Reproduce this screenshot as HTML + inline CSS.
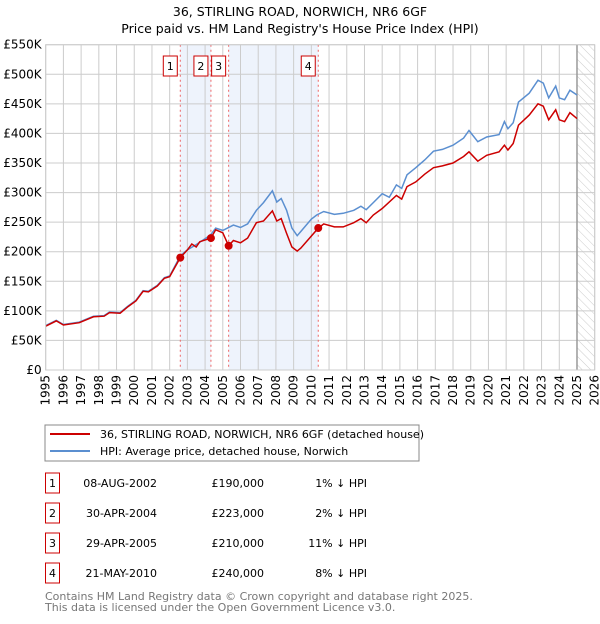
<!DOCTYPE html>
<html><head><meta charset="utf-8"><style>
body{margin:0;background:#fff;font-family:"DejaVu Sans","Liberation Sans",sans-serif;}
svg text{font-family:"DejaVu Sans","Liberation Sans",sans-serif;}
</style></head><body>
<svg id="c" width="600" height="620" xmlns="http://www.w3.org/2000/svg">
<defs><pattern id="hatch" width="6" height="6" patternUnits="userSpaceOnUse" patternTransform="rotate(-45)"><line x1="0" y1="0" x2="0" y2="6" stroke="#ccc" stroke-width="1"/></pattern></defs>
<text x="300" y="16" text-anchor="middle" font-size="12.5">36, STIRLING ROAD, NORWICH, NR6 6GF</text>
<text x="300" y="33" text-anchor="middle" font-size="12.5">Price paid vs. HM Land Registry's House Price Index (HPI)</text>
<g id="plot"></g>
<rect x="45" y="425" width="374" height="36" fill="#fff" stroke="#888"/>
<line x1="50" y1="434" x2="90" y2="434" stroke="#cc0000" stroke-width="2"/>
<text x="100" y="438" font-size="11">36, STIRLING ROAD, NORWICH, NR6 6GF (detached house)</text>
<line x1="50" y1="451" x2="90" y2="451" stroke="#5b8fd0" stroke-width="2"/>
<text x="100" y="455" font-size="11">HPI: Average price, detached house, Norwich</text>
<g id="table" font-size="11"></g>
<text x="45" y="600" font-size="11" fill="#777">Contains HM Land Registry data © Crown copyright and database right 2025.</text>
<text x="45" y="611" font-size="11" fill="#777">This data is licensed under the Open Government Licence v3.0.</text>
</svg>
<script>
const redYears=[1995.0,1995.6,1996.0,1996.9,1997.7,1998.3,1998.6,1999.2,1999.6,2000.1,2000.5,2000.8,2001.3,2001.7,2002.0,2002.6,2003.0,2003.25,2003.5,2003.7,2004.33,2004.6,2005.0,2005.33,2005.6,2006.0,2006.4,2006.9,2007.3,2007.8,2008.05,2008.3,2008.6,2008.9,2009.2,2009.4,2010.39,2010.7,2011.3,2011.8,2012.4,2012.8,2013.1,2013.5,2014.0,2014.8,2015.1,2015.4,2015.9,2016.4,2016.9,2017.4,2018.0,2018.6,2018.9,2019.4,2019.9,2020.6,2020.9,2021.1,2021.4,2021.7,2022.3,2022.8,2023.1,2023.4,2023.8,2024.0,2024.3,2024.6,2025.0];
const redVals=[74,83,76,80,90,91,97,96,106,117,133,132,142,155,158,190,203,213,208,217,223,237,232,210,219,215,223,249,252,269,252,256,231,208,201,206,240,247,242,242,249,256,249,262,273,295,289,310,318,331,342,345,350,361,369,353,363,369,380,372,383,414,431,450,446,423,440,423,420,435,425];
const hpiYears=[1995.0,1995.6,1996.0,1996.9,1997.7,1998.3,1998.6,1999.2,1999.6,2000.1,2000.5,2000.8,2001.3,2001.7,2002.0,2002.6,2003.0,2003.5,2004.3,2004.6,2005.0,2005.6,2006.0,2006.4,2006.9,2007.3,2007.8,2008.05,2008.3,2008.6,2008.9,2009.2,2009.4,2010.0,2010.3,2010.7,2011.3,2011.8,2012.4,2012.8,2013.1,2013.5,2014.0,2014.4,2014.8,2015.1,2015.4,2015.9,2016.4,2016.9,2017.4,2018.0,2018.6,2018.9,2019.4,2019.9,2020.6,2020.9,2021.1,2021.4,2021.7,2022.3,2022.8,2023.1,2023.4,2023.8,2024.0,2024.3,2024.6,2025.0];
const hpiVals=[75,84,77,81,91,92,98,97,107,118,134,133,143,156,159,193,203,212,228,240,236,245,241,247,270,283,303,284,290,270,240,227,234,255,262,268,263,265,270,277,271,283,298,292,313,307,330,342,355,370,373,380,392,405,386,394,398,420,408,418,453,468,490,485,460,480,460,457,473,465];
const saleYears=[2002.6,2004.33,2005.33,2010.39];
const salePrices=[190,223,210,240];
const saleLabels=["1","2","3","4"];
const saleDates=["08-AUG-2002","30-APR-2004","29-APR-2005","21-MAY-2010"];
const salePriceText=["£190,000","£223,000","£210,000","£240,000"];
const saleHpiText=["1% ↓ HPI","2% ↓ HPI","11% ↓ HPI","8% ↓ HPI"];
const yTicks=[0,50,100,150,200,250,300,350,400,450,500,550];
const yTickLabels=["£0","£50K","£100K","£150K","£200K","£250K","£300K","£350K","£400K","£450K","£500K","£550K"];
const xTicks=[1995,1996,1997,1998,1999,2000,2001,2002,2003,2004,2005,2006,2007,2008,2009,2010,2011,2012,2013,2014,2015,2016,2017,2018,2019,2020,2021,2022,2023,2024,2025,2026];

const NS="http://www.w3.org/2000/svg";
const L=45.7,R=594.7,T=44.7,B=370;
const X=y=>L+(y-1995)*(R-L)/31;
const Y=v=>B-v*(B-T)/550;
const plot=document.getElementById('plot');
function mk(tag,a,parent){const e=document.createElementNS(NS,tag);for(const k in a)e.setAttribute(k,a[k]);(parent||plot).appendChild(e);return e;}
let e;
e=mk('rect',{x:L,y:T,width:R-L,height:B-T,fill:'#fff'});


for(let i=0;i<saleYears.length;i+=2){
 e=mk('rect',{x:X(saleYears[i]),y:T,width:X(saleYears[i+1])-X(saleYears[i]),height:B-T,fill:'#eef3fc'});
 
 
}
e=mk('rect',{x:X(2025),y:T,width:R-X(2025),height:B-T,fill:'url(#hatch)'});


yTicks.forEach((v,i)=>{
 e=mk('line',{x1:L,x2:R,y1:Y(v),y2:Y(v),stroke:'#ccc'});
 
 
 e=mk('text',{x:L-4,y:Y(v)+4,'text-anchor':'end','font-size':'12'});
 e.textContent=yTickLabels[i];
 
 
});
xTicks.forEach(t=>{
 e=mk('line',{x1:X(t),x2:X(t),y1:T,y2:B,stroke:'#ccc'});
 
 
 e=mk('text',{x:0,y:0,'text-anchor':'end','font-size':'12',transform:`translate(${X(t)+4},${B+5}) rotate(-90)`});
 e.textContent=t;
 
 
});
e=mk('line',{x1:X(2025),x2:X(2025),y1:T,y2:B,stroke:'#999','stroke-width':1.5});


function path(xs,vs){return xs.map((x,i)=>(i?'L':'M')+X(x).toFixed(1)+','+Y(vs[i]).toFixed(1)).join('');}
saleYears.forEach((s,i)=>{
 e=mk('line',{x1:X(s),x2:X(s),y1:T,y2:B,stroke:'#e66','stroke-dasharray':'2,3'});
 
 
});
e=mk('path',{d:path(hpiYears,hpiVals),fill:'none',stroke:'#5b8fd0','stroke-width':1.5});


e=mk('path',{d:path(redYears,redVals),fill:'none',stroke:'#cc0000','stroke-width':1.5});


saleYears.forEach((s,i)=>{
 e=mk('circle',{cx:X(s),cy:Y(salePrices[i]),r:4,fill:'#cc0000'});
 
 
 e=mk('rect',{x:X(s)-17,y:56,width:14,height:20,fill:'#fff',stroke:'#cc0000'});
 
 
 e=mk('text',{x:X(s)-10,y:70,'text-anchor':'middle','font-size':'11'});
 e.textContent=saleLabels[i];
 
 
});
e=mk('rect',{x:L,y:T,width:R-L,height:B-T,fill:'none',stroke:'#ccc'});


const tb=document.getElementById('table');
saleLabels.forEach((lab,i)=>{
 const cy=483+i*30;
 e=mk('rect',{x:45.5,y:cy-10,width:14,height:20,fill:'#fff',stroke:'#cc0000'},tb);
 
 
 e=mk('text',{x:52.5,y:cy+4,'text-anchor':'middle'},tb);e.textContent=lab;
 
 
 e=mk('text',{x:157,y:cy+4,'text-anchor':'end'},tb);e.textContent=saleDates[i];
 
 
 e=mk('text',{x:264,y:cy+4,'text-anchor':'end'},tb);e.textContent=salePriceText[i];
 
 
 e=mk('text',{x:367,y:cy+4,'text-anchor':'end'},tb);e.textContent=saleHpiText[i];
 
 
});
</script>
</body></html>
